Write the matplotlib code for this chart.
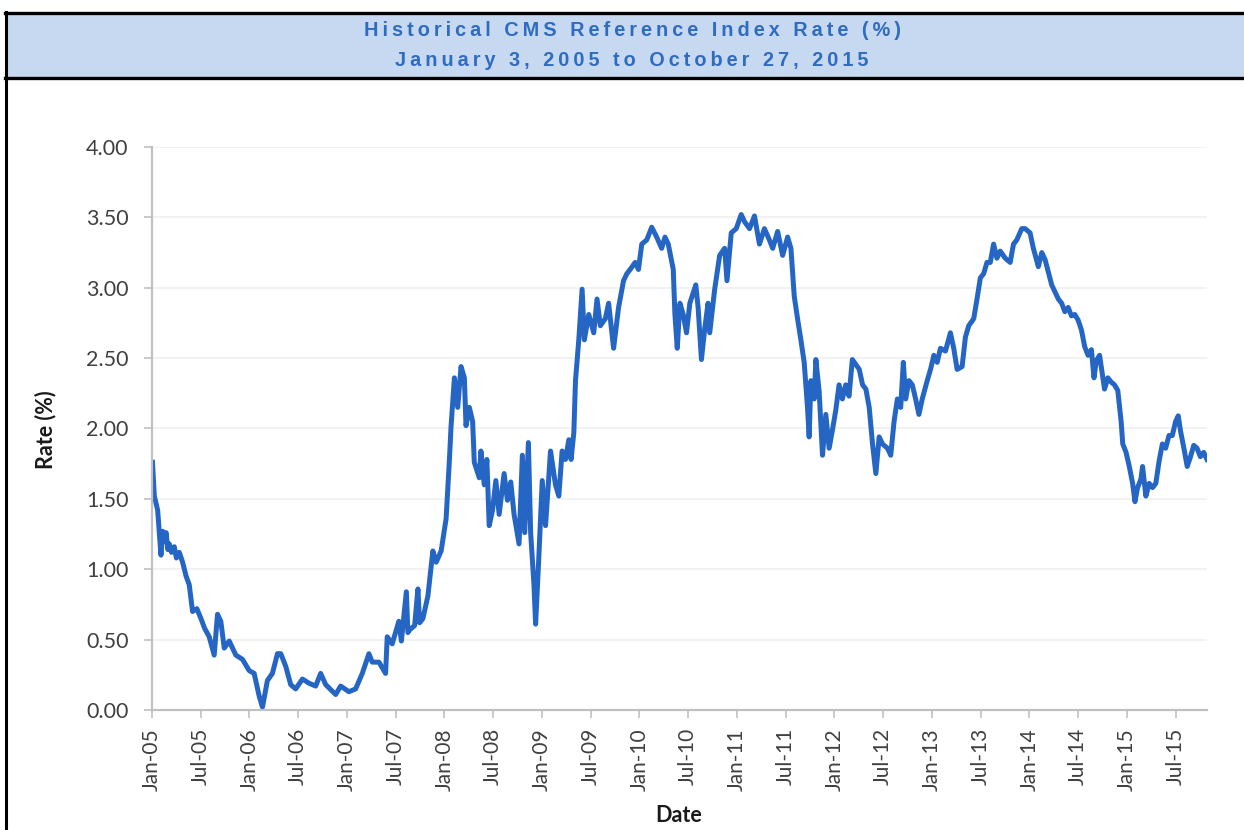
import matplotlib

matplotlib.use("Agg")
import matplotlib.pyplot as plt
from matplotlib.lines import Line2D
from matplotlib.patches import Rectangle

# CMS reference index (decimal year, rate %)
years = [
    2005.005, 2005.024, 2005.058, 2005.092, 2005.110, 2005.126, 2005.145, 2005.162, 2005.177, 2005.200,
    2005.229, 2005.250, 2005.280, 2005.314, 2005.350, 2005.382, 2005.416, 2005.460, 2005.502, 2005.540,
    2005.587, 2005.638, 2005.672, 2005.706, 2005.741, 2005.792, 2005.860, 2005.928, 2005.997, 2006.048,
    2006.099, 2006.133, 2006.184, 2006.235, 2006.287, 2006.321, 2006.372, 2006.423, 2006.474, 2006.543,
    2006.611, 2006.679, 2006.730, 2006.782, 2006.884, 2006.935, 2007.020, 2007.089, 2007.157, 2007.225,
    2007.259, 2007.328, 2007.396, 2007.413, 2007.464, 2007.532,
    2007.558, 2007.609, 2007.625, 2007.643, 2007.694, 2007.728, 2007.745, 2007.779, 2007.830, 2007.881,
    2007.915, 2007.966, 2008.017, 2008.051, 2008.068, 2008.102, 2008.136, 2008.170, 2008.204, 2008.221,
    2008.255, 2008.289, 2008.306, 2008.357, 2008.374, 2008.408, 2008.435, 2008.459, 2008.493, 2008.527,
    2008.561, 2008.612, 2008.646, 2008.680, 2008.714, 2008.765, 2008.799, 2008.823, 2008.861, 2008.884,
    2008.918, 2008.935, 2008.969, 2009.003, 2009.037, 2009.088, 2009.139, 2009.173, 2009.207, 2009.241,
    2009.276, 2009.299, 2009.327, 2009.344, 2009.378, 2009.412, 2009.435, 2009.480, 2009.531, 2009.565,
    2009.599, 2009.650, 2009.684, 2009.735, 2009.786,
    2009.837, 2009.871, 2009.905, 2009.956, 2009.990, 2010.024, 2010.075, 2010.126, 2010.177, 2010.228,
    2010.262, 2010.296, 2010.347, 2010.364, 2010.388, 2010.415, 2010.449, 2010.483, 2010.517, 2010.578,
    2010.602, 2010.636, 2010.670, 2010.704, 2010.721, 2010.772, 2010.823, 2010.874, 2010.898, 2010.942,
    2010.993, 2011.044, 2011.078, 2011.129, 2011.180, 2011.231, 2011.282, 2011.333, 2011.367, 2011.418,
    2011.469, 2011.520, 2011.554, 2011.588, 2011.622, 2011.656, 2011.690, 2011.724, 2011.741, 2011.759,
    2011.793, 2011.810, 2011.844, 2011.878, 2011.912, 2011.946, 2011.980, 2012.014, 2012.048, 2012.082,
    2012.116, 2012.150, 2012.184,
    2012.255, 2012.289, 2012.323, 2012.357, 2012.391, 2012.425, 2012.459, 2012.493, 2012.544, 2012.578,
    2012.612, 2012.646, 2012.680, 2012.707, 2012.731, 2012.765, 2012.799, 2012.833, 2012.867, 2012.901,
    2012.952, 2012.986, 2013.020, 2013.054, 2013.088, 2013.139, 2013.190, 2013.224, 2013.259, 2013.310,
    2013.344, 2013.378, 2013.429, 2013.463, 2013.497, 2013.531, 2013.565, 2013.599, 2013.633, 2013.667,
    2013.701, 2013.752, 2013.803, 2013.837, 2013.871, 2013.922, 2013.956, 2014.007, 2014.041, 2014.092,
    2014.127, 2014.161, 2014.195, 2014.229, 2014.263, 2014.297, 2014.331, 2014.364, 2014.398, 2014.432,
    2014.466, 2014.500, 2014.534, 2014.568, 2014.602, 2014.636, 2014.663, 2014.686, 2014.720, 2014.754,
    2014.771, 2014.805, 2014.839, 2014.873, 2014.907, 2014.941, 2014.958, 2014.992, 2015.025, 2015.059,
    2015.083, 2015.110, 2015.144, 2015.161, 2015.195, 2015.229, 2015.263, 2015.297, 2015.331, 2015.364,
    2015.398, 2015.432, 2015.466, 2015.500, 2015.527, 2015.551, 2015.585, 2015.619, 2015.653, 2015.686,
    2015.720, 2015.754, 2015.788, 2015.822,
]
rates = [
    1.76, 1.52, 1.42, 1.10, 1.27, 1.20, 1.26, 1.14, 1.18, 1.12,
    1.16, 1.08, 1.12, 1.05, 0.95, 0.89, 0.70, 0.72, 0.65, 0.58,
    0.52, 0.39, 0.68, 0.63, 0.44, 0.49, 0.39, 0.36, 0.28, 0.26,
    0.10, 0.02, 0.21, 0.26, 0.40, 0.40, 0.31, 0.18, 0.15, 0.22,
    0.19, 0.17, 0.26, 0.18, 0.11, 0.17, 0.13, 0.15, 0.26, 0.40,
    0.34, 0.34, 0.26, 0.52, 0.47, 0.63,
    0.49, 0.84, 0.55, 0.57, 0.60, 0.86, 0.62, 0.65, 0.81, 1.13,
    1.05, 1.13, 1.36, 1.78, 2.02, 2.36, 2.15, 2.44, 2.36, 2.02,
    2.15, 2.05, 1.76, 1.65, 1.84, 1.60, 1.78, 1.31, 1.42, 1.63,
    1.39, 1.68, 1.49, 1.62, 1.39, 1.18, 1.81, 1.26, 1.90, 1.26,
    0.89, 0.61, 1.10, 1.63, 1.31, 1.84, 1.60, 1.52, 1.84, 1.78,
    1.92, 1.78, 1.97, 2.34, 2.63, 2.99, 2.63, 2.81, 2.68, 2.92,
    2.73, 2.78, 2.89, 2.57, 2.86,
    3.05, 3.10, 3.13, 3.18, 3.13, 3.31, 3.34, 3.43, 3.36, 3.28,
    3.36, 3.31, 3.13, 2.81, 2.57, 2.89, 2.81, 2.68, 2.89, 3.02,
    2.86, 2.49, 2.71, 2.89, 2.68, 2.99, 3.23, 3.28, 3.05, 3.39,
    3.42, 3.52, 3.47, 3.42, 3.51, 3.31, 3.42, 3.34, 3.28, 3.40,
    3.23, 3.36, 3.28, 2.94, 2.78, 2.63, 2.47, 2.15, 1.94, 2.34,
    2.21, 2.49, 2.26, 1.81, 2.10, 1.86, 1.99, 2.13, 2.31, 2.21,
    2.31, 2.23, 2.49,
    2.42, 2.31, 2.28, 2.15, 1.89, 1.68, 1.94, 1.89, 1.86, 1.81,
    2.05, 2.21, 2.15, 2.47, 2.21, 2.34, 2.31, 2.21, 2.10, 2.21,
    2.34, 2.42, 2.52, 2.47, 2.57, 2.55, 2.68, 2.57, 2.42, 2.44,
    2.65, 2.73, 2.78, 2.92, 3.07, 3.10, 3.18, 3.18, 3.31, 3.21,
    3.26, 3.21, 3.18, 3.31, 3.34, 3.42, 3.42, 3.39, 3.28, 3.15,
    3.25, 3.20, 3.11, 3.02, 2.97, 2.92, 2.89, 2.83, 2.86, 2.80,
    2.81, 2.77, 2.70, 2.58, 2.52, 2.56, 2.36, 2.48, 2.52, 2.36,
    2.28, 2.36, 2.33, 2.31, 2.27, 2.05, 1.89, 1.83, 1.73, 1.61,
    1.48, 1.58, 1.64, 1.73, 1.52, 1.61, 1.58, 1.61, 1.77, 1.89,
    1.86, 1.95, 1.95, 2.05, 2.09, 1.98, 1.86, 1.73, 1.80, 1.88,
    1.86, 1.80, 1.83, 1.78,
]

tick_years = [2005 + 0.5 * i for i in range(22)]
tick_labels = [f"{m}-{y % 100:02d}" for y in range(2005, 2016) for m in ("Jan", "Jul")]
y_ticks = [0.0, 0.5, 1.0, 1.5, 2.0, 2.5, 3.0, 3.5, 4.0]

title_lines = ["Historical CMS Reference Index Rate (%)", "January 3, 2005 to October 27, 2015"]

W, H = 1244, 830
fig = plt.figure(figsize=(W / 100, H / 100), dpi=100)

# header band + frame
fig.add_artist(Rectangle((7 / W, 1 - 78 / H), 1 - 7 / W, 64 / H, transform=fig.transFigure,
                         facecolor="#c6d9f0", edgecolor="none"))
fig.add_artist(Line2D([5 / W, 1], [1 - 13.5 / H] * 2, color="black", lw=2.4))
fig.add_artist(Line2D([5 / W, 1], [1 - 78.5 / H] * 2, color="black", lw=2.4))
fig.add_artist(Line2D([6 / W] * 2, [0, 1 - 12.5 / H], color="black", lw=2.2))

spaced = ["\u2009".join(t) for t in title_lines]
for txt, ypix in zip(spaced, (31, 60)):
    fig.text(632 / W, 1 - ypix / H, txt, ha="center", va="center", fontsize=14.3,
             fontweight="bold", color="#2f6cc0", family=["Liberation Sans", "DejaVu Sans"])

ax = fig.add_axes([152 / W, 1 - 710 / H, 1055 / W, 563 / H])
ax.plot(years, rates, color="#2566c4", lw=3.6, solid_joinstyle="round")

ax.set_xlim(2005.0, 2015.822)
ax.set_ylim(0, 4)
ax.set_xticks(tick_years)
ax.set_xticklabels(tick_labels, rotation=90, family="Lato", fontsize=15, color="#404040")
ax.set_yticks(y_ticks)
ax.set_yticklabels([f"{v:.2f}" for v in y_ticks], family="Lato", fontsize=15.5, color="#404040")
ax.tick_params(axis="y", length=6, width=1.2, color="#c0c0c0", pad=11)
ax.tick_params(axis="x", length=6, width=1.2, color="#c0c0c0", pad=7)
ax.grid(axis="y", color="#f0f0f0", lw=1.2)
ax.set_axisbelow(True)
for side in ("top", "right"):
    ax.spines[side].set_visible(False)
for side in ("left", "bottom"):
    ax.spines[side].set_color("#c0c0c0")
    ax.spines[side].set_linewidth(1.6)

fig.text(46 / W, 1 - 430 / H, "Rate (%)", rotation=90, ha="center", va="center",
         family="Lato", fontweight="bold", fontsize=15.5, color="#1a1a1a")
fig.text(679 / W, 1 - 815 / H, "Date", ha="center", va="center",
         family="Lato", fontweight="bold", fontsize=15.5, color="#1a1a1a")

fig.savefig("out.png", dpi=100)
